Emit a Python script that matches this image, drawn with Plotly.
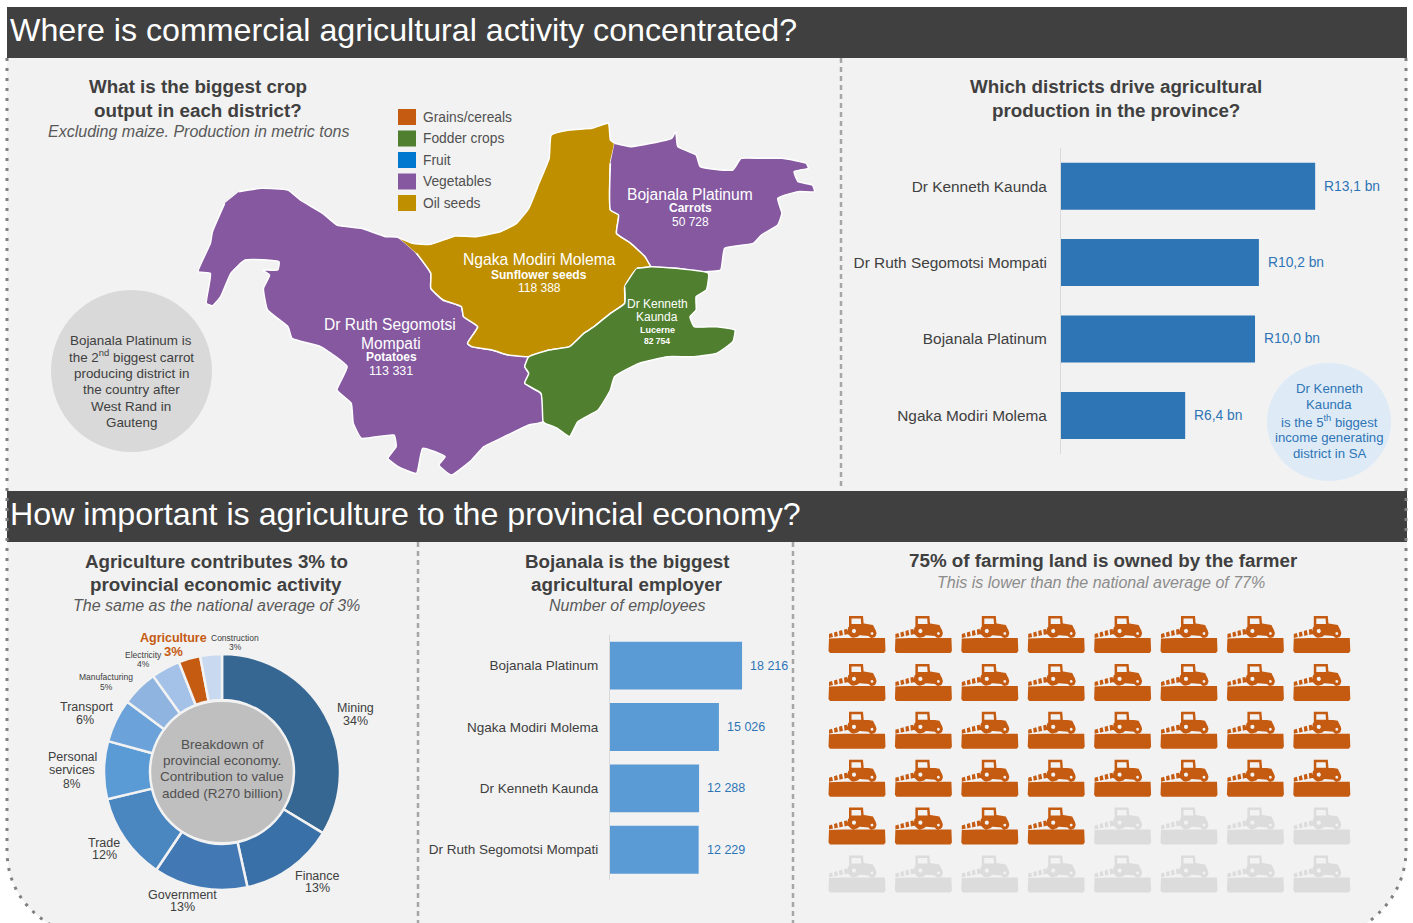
import numpy as np
import plotly.graph_objects as go

W, H = 1413, 923
FONT = "Liberation Sans"
DARK = "#404040"
BG = "#f2f2f2"

# ---- Data ----
crop_legend = ["Grains/cereals", "Fodder crops", "Fruit", "Vegetables", "Oil seeds"]
crop_colors = ["#c55a11", "#4f7f2f", "#0078d0", "#8558a0", "#bf8f00"]

output_districts = ["Dr Kenneth Kaunda", "Dr Ruth Segomotsi Mompati", "Bojanala Platinum", "Ngaka Modiri Molema"]
output_values = [13.1, 10.2, 10.0, 6.4]
output_labels = ["R13,1 bn", "R10,2 bn", "R10,0 bn", "R6,4 bn"]

employ_districts = ["Bojanala Platinum", "Ngaka Modiri Molema", "Dr Kenneth Kaunda", "Dr Ruth Segomotsi Mompati"]
employ_values = [18216, 15026, 12288, 12229]
employ_labels = ["18 216", "15 026", "12 288", "12 229"]

sectors = ["Mining", "Finance", "Government", "Trade", "Personal services", "Transport",
           "Manufacturing", "Electricity", "Agriculture", "Construction"]
sector_shares = [34, 13, 13, 12, 8, 6, 5, 4, 3, 3]
sector_colors = ["#366692", "#3a70a8", "#4279b5", "#4a86c0", "#5b9bd5", "#6ca2da",
                 "#8fb4e0", "#a4c2e8", "#c55a11", "#c9daf0"]

tractors_total = 48
tractors_owned = 36

ngaka_outline = [(510,412),(545,430),(590,433),(650,408),(700,410),(760,395),(800,370),(830,325),(855,250),
    (880,175),(885,105),(930,90),(985,85),(1025,70),(1030,120),(1040,130),(1030,190),(1030,330),(1050,345),
    (1045,400),(1080,430),(1115,470),(1130,500),(1095,505),(1065,560),(1065,610),(1030,640),(990,680),
    (965,700),(930,740),(880,750),(835,770),(780,765),(740,750),(690,740),(680,730),(705,680),(670,650),
    (665,620),(620,600),(590,565),(590,520),(555,460)]
bojanala_outline = [(1040,130),(1080,140),(1130,130),(1180,115),(1190,95),(1195,140),(1240,165),(1250,200),
    (1330,210),(1350,175),(1400,175),(1450,175),(1510,190),(1515,205),(1480,215),(1490,245),(1525,255),
    (1530,275),(1490,275),(1440,295),(1450,340),(1440,375),(1400,405),(1380,430),(1310,445),(1300,510),
    (1260,515),(1190,505),(1130,500),(1115,470),(1080,430),(1045,400),(1050,345),(1030,330),(1030,190)]
ruth_outline = [(120,275),(175,265),(240,270),(270,300),(325,340),(360,375),(420,385),(480,410),(510,412),
    (555,460),(590,520),(590,565),(620,600),(665,620),(670,650),(705,680),(680,730),(690,740),(740,750),
    (780,765),(830,770),(820,800),(830,820),(820,850),(860,880),(865,965),(830,975),(770,1010),(720,1040),
    (690,1080),(640,1125),(610,1095),(625,1070),(570,1045),(555,1120),(510,1100),(485,1075),(505,1040),
    (500,1005),(420,1015),(400,970),(395,910),(360,870),(385,800),(320,740),(250,715),(240,680),(190,630),
    (180,565),(195,525),(178,510),(215,510),(218,485),(135,480),(100,520),(75,590),(55,617),(40,610),
    (50,520),(20,515),(50,430),(55,395),(85,310)]
kenneth_outline = [(1095,505),(1130,500),(1190,505),(1270,520),(1265,570),(1240,590),(1240,630),(1225,650),
    (1235,680),(1290,680),(1335,690),(1330,725),(1290,760),(1235,770),(1170,770),(1100,790),(1040,830),
    (1030,870),(1000,930),(950,965),(930,1010),(900,985),(870,970),(865,965),(860,880),(820,850),(830,820),
    (820,800),(830,770),(880,750),(930,740),(965,700),(990,680),(1030,640),(1065,610),(1065,560)]


def xdom(a, b):
    return [a / W, b / W]


def ydom(top, bot):
    return [1 - bot / H, 1 - top / H]


fig = go.Figure()
annotations = []
shapes = []


def label(x, y, text, size=13, color=DARK, anchor="center"):
    annotations.append(dict(x=x, y=y, xref="x", yref="y", text=text, showarrow=False, xanchor=anchor,
                            yanchor="middle", font=dict(family=FONT, size=size, color=color)))


def box(x0, y0, x1, y1, color):
    shapes.append(dict(type="rect", x0=x0, y0=y0, x1=x1, y1=y1, xref="x", yref="y",
                       fillcolor=color, line_width=0, layer="below"))


def disc(x0, y0, x1, y1, color):
    shapes.append(dict(type="circle", x0=x0, y0=y0, x1=x1, y1=y1, xref="x", yref="y",
                       fillcolor=color, line_width=0, layer="below"))


def dotted(path, color="#a6a6a6", width=2.5, dash="5px,4px"):
    shapes.append(dict(type="path", path=path, xref="x", yref="y", layer="below",
                       line=dict(color=color, width=width, dash=dash)))


# ---- Panel, headers, dividers ----
shapes.append(dict(type="path", xref="x", yref="y", layer="below", fillcolor=BG, line_width=0,
                   path="M7,7 L1407,7 L1407,850 C1407,885 1385,915 1355,930 L60,930 C30,915 7,890 7,850 Z"))
box(7, 7, 1407, 58, DARK)
box(7, 491, 1407, 542, DARK)
dotted("M7,58 L7,850 C7,890 30,915 60,930", "#808080", 3, "3px,7px")
dotted("M1406,58 L1406,850 C1406,885 1385,915 1355,930", "#808080", 3, "3px,7px")
dotted("M841,58 L841,490")
dotted("M418,542 L418,923")
dotted("M793,542 L793,923")
label(8, 30, "Where is commercial agricultural activity concentrated?", 32.2, "white", "left")
label(8, 514, "How important is agriculture to the provincial economy?", 32.2, "white", "left")

# ---- Map ----
label(198, 86, "<b>What is the biggest crop</b>", 18.8)
label(198, 110, "<b>output in each district?</b>", 18.8)
label(198, 131, "<i>Excluding maize. Production in metric tons</i>", 16, "#595959")

for i, (name, color) in enumerate(zip(crop_legend, crop_colors)):
    yc = 117 + i * 21.5
    box(398, yc - 8, 416, yc + 8, color)
    label(421, yc, name, 13.8, "#505050", "left")

for outline, color in [(ruth_outline, crop_colors[3]), (ngaka_outline, crop_colors[4]),
                       (bojanala_outline, crop_colors[3]), (kenneth_outline, crop_colors[1])]:
    fig.add_trace(go.Scatter(x=[190 + p[0] / 2.45 for p in outline], y=[100 + p[1] / 3 for p in outline],
                             mode="lines", fill="toself", fillcolor=color,
                             line=dict(color="white", width=1.5, shape="spline", smoothing=0.4), hoverinfo="skip"))

label(690, 194, "Bojanala Platinum", 15.6, "white")
label(690, 208, "<b>Carrots</b>", 12, "white")
label(690, 222, "50 728", 12, "white")
label(539, 259, "Ngaka Modiri Molema", 15.7, "white")
label(539, 275, "<b>Sunflower seeds</b>", 12, "white")
label(539, 288, "118 388", 12, "white")
label(390, 324, "Dr Ruth Segomotsi", 15.6, "white")
label(391, 343, "Mompati", 15.6, "white")
label(391, 357, "<b>Potatoes</b>", 12, "white")
label(391, 371, "113 331", 12.5, "white")
label(657, 304, "Dr Kenneth", 12, "white")
label(657, 317, "Kaunda", 12, "white")
label(657, 330, "<b>Lucerne</b>", 9, "white")
label(657, 341, "<b>82 754</b>", 8.5, "white")

disc(51, 290, 212, 452, "#d9d9d9")
for yc, line in zip([340, 356, 373, 389, 406, 422],
                    ["Bojanala Platinum is", "the 2<sup>nd</sup> biggest carrot", "producing district in",
                     "the country after", "West Rand in", "Gauteng"]):
    label(131, yc, line, 13.4)

# ---- Output bars ----
label(1116, 86, "<b>Which districts drive agricultural</b>", 18.8)
label(1116, 110, "<b>production in the province?</b>", 18.8)
fig.add_trace(go.Bar(x=output_values, y=output_districts, orientation="h", marker_color="#2e75b6",
                     marker_line_width=0, width=0.615, xaxis="x2", yaxis="y2", hoverinfo="skip"))
for d, v, t in zip(output_districts, output_values, output_labels):
    annotations.append(dict(x=v, y=d, xref="x2", yref="y2", text=t, showarrow=False, xanchor="left", xshift=7,
                            font=dict(family=FONT, size=13.8, color="#2e75b6")))

disc(1267, 363, 1391, 481, "#deebf7")
for yc, line in zip([388, 404, 421, 437, 453],
                    ["Dr Kenneth", "Kaunda", "is the 5<sup>th</sup> biggest", "income generating", "district in SA"]):
    label(1329, yc, line, 13.2, "#2e75b6")

# ---- Donut ----
label(216, 561, "<b>Agriculture contributes 3% to</b>", 18.8)
label(216, 584, "<b>provincial economic activity</b>", 18.8)
label(216, 605, "<i>The same as the national average of 3%</i>", 16, "#595959")
disc(148, 702, 297, 842, "#bfbfbf")
fig.add_trace(go.Pie(labels=sectors, values=sector_shares, sort=False, direction="clockwise", rotation=0,
                     hole=0.61, textinfo="none", showlegend=False, hoverinfo="skip",
                     marker=dict(colors=sector_colors, line=dict(color=BG, width=2.5)),
                     domain=dict(x=xdom(222 - 118, 222 + 118), y=ydom(772 - 118, 772 + 118))))
for yc, line in zip([744, 760, 776, 793],
                    ["Breakdown of", "provincial economy.", "Contribution to value", "added (R270 billion)"]):
    label(222, yc, line, 13.5, "#505050")
label(355, 708, "Mining", 12.5)
label(355, 721, "34%", 12.5)
label(317, 876, "Finance", 12.5)
label(317, 888, "13%", 12.5)
label(182, 895, "Government", 12.5)
label(182, 907, "13%", 12.5)
label(104, 843, "Trade", 12.5)
label(104, 855, "12%", 12.5)
label(72, 757, "Personal", 12.5)
label(72, 770, "services", 12.5)
label(72, 784, "8%", 12)
label(87, 707, "Transport", 12.5)
label(85, 720, "6%", 12.5)
label(106, 677, "Manufacturing", 8.5)
label(106, 687, "5%", 8.5)
label(143, 655, "Electricity", 8.5)
label(143, 664, "4%", 8.5)
label(173, 638, "<b>Agriculture</b>", 12.5, "#c55a11")
label(173, 651, "<b>3%</b>", 13, "#c55a11")
label(235, 638, "Construction", 8.5)
label(235, 647, "3%", 8.5)

# ---- Employment bars ----
label(627, 561, "<b>Bojanala is the biggest</b>", 18.8)
label(627, 584, "<b>agricultural employer</b>", 18.8)
label(627, 605, "<i>Number of employees</i>", 16, "#595959")
fig.add_trace(go.Bar(x=employ_values, y=employ_districts, orientation="h", marker_color="#5b9bd5",
                     marker_line_width=0, width=0.78, xaxis="x3", yaxis="y3", hoverinfo="skip"))
for d, v, t in zip(employ_districts, employ_values, employ_labels):
    annotations.append(dict(x=v, y=d, xref="x3", yref="y3", text=t, showarrow=False, xanchor="left", xshift=6,
                            font=dict(family=FONT, size=12.5, color="#2e75b6")))

# ---- Tractors ----
label(1103, 560, "<b>75% of farming land is owned by the farmer</b>", 18.8)
label(1101, 582, "<i>This is lower than the national average of 77%</i>", 16, "#8c8c8c")


def ring(cx, cy, r):
    a = np.linspace(0, 2 * np.pi, 20)
    return list(zip(cx + r * np.cos(a), cy + r * np.sin(a)))


# one tractor, in pixels around its centre
tractor_parts = [
    [(-28, 4.5), (-13, 4), (28, 4), (28.5, 17), (27, 19), (-27, 19), (-28.5, 17)],
    [(-28, 0), (-25, -1), (-24, 3), (-28, 4)],
    [(-23, -1.5), (-20, -2.5), (-19, 2), (-22.5, 3)],
    [(-18, -3), (-15, -4), (-14, 1), (-17.5, 2)],
    [(-13, -4.5), (-10, -5), (-9, 0), (-12.5, 1)],
    [(-8, -18), (6, -18), (7, -6), (-8, -6)],
    [(4, -11), (16, -9), (19, -3), (12, 2), (0, 1)],
    ring(-3, -3, 6.8),
    ring(15, -0.5, 4.5),
]
tractor_holes = [
    [(-5.5, -15.5), (3.8, -15.5), (4.2, -10), (-5.5, -10)],
    ring(-3, -3, 2.2),
    ring(15, -0.5, 1.5),
]


def glyphs(parts, cells):
    xs, ys = [], []
    for cx, cy in cells:
        for part in parts:
            xs += [cx + p[0] for p in part] + [None]
            ys += [cy + p[1] for p in part] + [None]
    return xs, ys


cells = [(857 + (i % 8) * 66.4, 634 + (i // 8) * 47.9) for i in range(tractors_total)]
for part_cells, color in [(cells[:tractors_owned], "#c55a11"), (cells[tractors_owned:], "#dcdcdc")]:
    xs, ys = glyphs(tractor_parts, part_cells)
    fig.add_trace(go.Scatter(x=xs, y=ys, mode="lines", fill="toself", fillcolor=color,
                             line=dict(width=0, color=color), hoverinfo="skip"))
xs, ys = glyphs(tractor_holes, cells)
fig.add_trace(go.Scatter(x=xs, y=ys, mode="lines", fill="toself", fillcolor=BG,
                         line=dict(width=0, color=BG), hoverinfo="skip"))

# ---- Layout ----
bar_y = dict(type="category", showline=True, linecolor="#d9d9d9", linewidth=1, ticks="", showgrid=False,
             zeroline=False)
fig.update_layout(
    width=W, height=H, margin=dict(l=0, r=0, t=0, b=0), showlegend=False,
    paper_bgcolor="white", plot_bgcolor="rgba(0,0,0,0)",
    font=dict(family=FONT, color=DARK),
    shapes=shapes, annotations=annotations,
    xaxis=dict(range=[0, W], visible=False, domain=[0, 1]),
    yaxis=dict(range=[H, 0], visible=False, domain=[0, 1]),
    xaxis2=dict(range=[0, 17.73], visible=False, domain=xdom(1061, 1405), anchor="y2"),
    yaxis2=dict(bar_y, domain=ydom(148, 453.6), anchor="x2", range=[3.5, -0.5], ticklabelstandoff=10,
                tickfont=dict(size=15.4, color=DARK)),
    xaxis3=dict(range=[0, 24830], visible=False, domain=xdom(610, 790), anchor="y3"),
    yaxis3=dict(bar_y, domain=ydom(635, 880.4), anchor="x3", range=[3.5, -0.5], ticklabelstandoff=8,
                tickfont=dict(size=13.5, color=DARK)),
)

fig.write_html("out.html", config={"displayModeBar": False},
               post_script="document.body.style.margin='0';")
